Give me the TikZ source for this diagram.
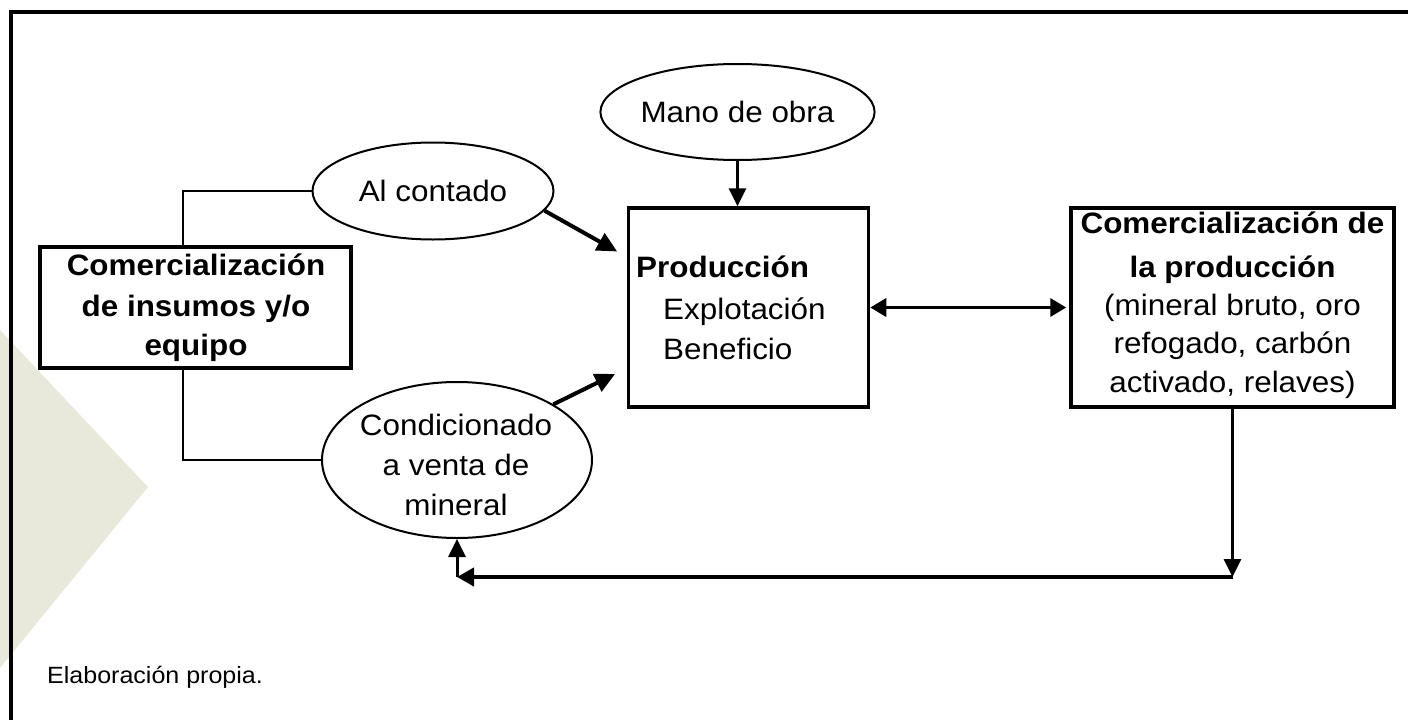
\documentclass[tikz,border=0pt]{standalone}
\usepackage{fontspec}
\setmainfont{Liberation Sans}[FakeStretch=1.065]
\usetikzlibrary{shapes.geometric,arrows.meta,calc}
\definecolor{wmark}{RGB}{232,232,219}
\begin{document}
\begin{tikzpicture}[x=1pt,y=-1pt,
  txt/.style={font=\fontsize{29.5}{41}\selectfont, inner sep=0pt},
  btxt/.style={font=\fontsize{29.5}{41}\selectfont\bfseries, inner sep=0pt},
  boxshape/.style={draw, line width=3.5pt, inner sep=0pt},
  oval/.style={ellipse, draw, line width=2pt, inner sep=0pt, font=\fontsize{29.5}{41}\selectfont},
  tipA/.style={-{Triangle[length=18pt,width=17pt]}},
  arr/.style={line width=4pt, -{Triangle[length=20pt,width=19pt]}},
  arrthin/.style={line width=3pt, tipA},
  arrboth/.style={line width=3.5pt, {Triangle[length=16pt,width=18pt]}-{Triangle[length=16pt,width=18pt]}},
  bracket/.style={line width=1.5pt}
]
\useasboundingbox (0,0) rectangle (1408,720);
% watermark
\fill[wmark] (0,330) -- (148,487) -- (0,668) -- cycle;
% frame
\draw[line width=4pt] (11,720) -- (11,12) -- (1408,12);

% left box
\node[boxshape, minimum width=311pt, minimum height=121pt] (lb) at (195.5,307.5) {};
\node[btxt, anchor=base] (lb1) at (196,275) {Comercialización};
\node[btxt, anchor=base] (lb2) at (196,316) {de insumos y/o};
\node[btxt, anchor=base] (lb3) at (196,355) {equipo};

% production box
\node[boxshape, minimum width=240pt, minimum height=199pt] (prod) at (748.5,307.5) {};
\node[btxt, anchor=base west] (p1) at (636,277.5) {Producción};
\node[txt, anchor=base west] (p2) at (663,319) {Explotación};
\node[txt, anchor=base west] (p3) at (663,359.5) {Beneficio};

% right box
\node[boxshape, minimum width=323pt, minimum height=199pt] (rb) at (1232.5,307.5) {};
\node[btxt, anchor=base] (r1) at (1232.5,233) {Comercialización de};
\node[btxt, anchor=base] (r2) at (1232.5,277) {la producción};
\node[txt, anchor=base] (r3) at (1232.5,315) {(mineral bruto, oro};
\node[txt, anchor=base] (r4) at (1232.5,353.5) {refogado, carbón};
\node[txt, anchor=base] (r5) at (1232.5,392) {activado, relaves)};

% ellipses
\node[oval, minimum width=241pt, minimum height=97pt] (ac) at (433,191) {Al contado};
\node[oval, minimum width=249pt, minimum height=96pt] (mo) at (737.5,112) {Mano de obra};
\node[oval, minimum width=270pt, minimum height=156pt] (cond) at (457,460) {};
\node[txt, anchor=base] (c1t) at (456,435) {Condicionado};
\node[txt, anchor=base] (c2t) at (456,475) {a venta de};
\node[txt, anchor=base] (c3t) at (456,515) {mineral};

% bracket lines
\coordinate (bx) at (183,0);
\draw[bracket] (ac.west) -| (bx |- lb.north);
\draw[bracket] (bx |- lb.south) |- (cond.west);

% arrows
\draw[arr, shorten >=11pt] (ac.-10) -- ($(prod.north west)!0.25!(prod.south west)$);
\draw[arr, shorten >=13pt] (cond.30) -- ($(prod.north west)!0.8!(prod.south west)$);
\draw[arrthin] (mo.south) -- (mo.south |- prod.north);
\draw[arrboth, shorten >=3pt] (prod.east) -- (rb.west);

\coordinate (k1) at (1232.5,577);
\coordinate (k2) at (457,577);
\draw[arrthin] (rb.south) -- (k1);
\draw[line width=4pt, -{Triangle[length=17pt,width=18pt]}] (k1) -- (k2);
\draw[arrthin] (k2) -- (cond.south);

% source
\node[font=\fontsize{23.5}{28}\selectfont, anchor=base west, inner sep=0pt] (src) at (47,683) {Elaboración propia.};
\end{tikzpicture}
\end{document}
